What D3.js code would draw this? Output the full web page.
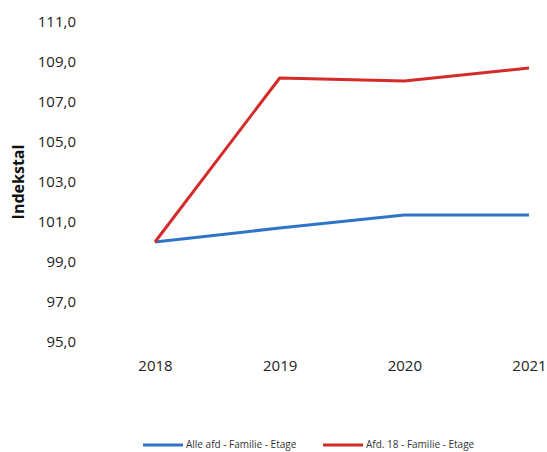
<!DOCTYPE html>
<html><head><meta charset="utf-8">
<script src="https://cdn.jsdelivr.net/npm/d3@7"></script>
<style>body{margin:0;background:#fff}svg{display:block}</style>
</head><body>
<script>
const years = ["2018","2019","2020","2021"];
const alleAfd = [100.0, 100.7, 101.35, 101.35];
const afd18 = [100.0, 108.2, 108.05, 108.7];
const yTicks = [95,97,99,101,103,105,107,109,111];
const seriesNames = ["Alle afd - Familie - Etage","Afd. 18 - Familie - Etage"];
const colors = ["#2f74c9","#d42a2a"];

const W=547,H=452;
const svg=d3.select("body").append("svg").attr("width",W).attr("height",H);
const x=d3.scalePoint().domain(years).range([155,529]);
const y=d3.scaleLinear().domain([95,111]).range([342,22]);
const font="'Open Sans', 'Liberation Sans', sans-serif";

const yAxis=svg.append("g").attr("transform","translate(76,0)")
  .call(d3.axisLeft(y).tickValues(yTicks).tickSize(0).tickPadding(0)
  .tickFormat(d=>d3.format(".1f")(d).replace(".",",")));
yAxis.select(".domain").remove();
yAxis.selectAll("text").attr("font-family",font).attr("font-size",15).attr("fill","#222");

const xAxis=svg.append("g").attr("transform","translate(0,360)")
  .call(d3.axisBottom(x).tickSize(0).tickPadding(0));
xAxis.select(".domain").remove();
xAxis.selectAll("text").attr("font-family",font).attr("font-size",15).attr("fill","#222");

svg.append("text").attr("transform","translate(24,182) rotate(-90)")
  .attr("text-anchor","middle").attr("font-family",font).attr("font-weight","bold")
  .attr("font-size",16).attr("fill","#111").text("Indekstal");

const line=d3.line().x((d,i)=>x(years[i])).y(d=>y(d));
[alleAfd,afd18].forEach((s,k)=>{
  svg.append("path").datum(s).attr("d",line).attr("fill","none")
    .attr("stroke",colors[k]).attr("stroke-width",3).attr("stroke-linejoin","round");
});

const lg=[{x:143},{x:323}];
lg.forEach((p,k)=>{
  svg.append("line").attr("x1",p.x).attr("x2",p.x+40).attr("y1",445).attr("y2",445)
    .attr("stroke",colors[k]).attr("stroke-width",3);
  svg.append("text").attr("x",p.x+43).attr("y",448).attr("font-family",font)
    .attr("font-size",10).attr("fill","#333").text(seriesNames[k]);
});
</script>
</body></html>
